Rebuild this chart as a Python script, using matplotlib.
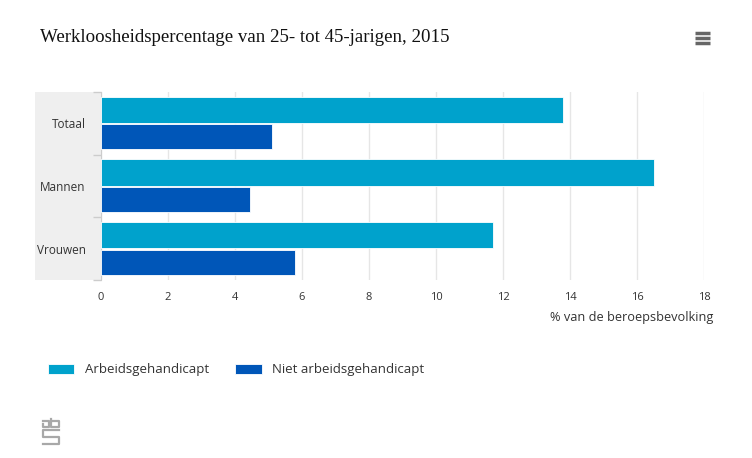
import numpy as np
import matplotlib.pyplot as plt
from matplotlib.patches import Rectangle
from matplotlib.lines import Line2D

# gegevens
categorieen = ['Totaal', 'Mannen', 'Vrouwen']
arbeidsgehandicapt = [13.8, 16.5, 11.7]
niet_gehandicapt = [5.1, 4.45, 5.8]
x_ticks = [0, 2, 4, 6, 8, 10, 12, 14, 16, 18]

licht = '#00a2cc'
donker = '#0056b8'

W, H = 752, 458
fig = plt.figure(figsize=(7.52, 4.58), dpi=100)

# grijze achtergrond achter de categorieen
fig.patches.append(Rectangle((35 / W, 1 - 280 / H), 66 / W, 188 / H,
                             transform=fig.transFigure, facecolor='#efefef',
                             edgecolor='none', zorder=0))

ax = fig.add_axes([101 / W, 1 - 280 / H, 603 / W, 188 / H])
ax.set_zorder(2)

y = np.arange(len(categorieen))
ax.barh(y - 0.215, arbeidsgehandicapt, height=0.42, color=licht,
        edgecolor='white', linewidth=0.6, label='Arbeidsgehandicapt', zorder=3)
ax.barh(y + 0.215, niet_gehandicapt, height=0.40, color=donker,
        edgecolor='white', linewidth=0.6, label='Niet arbeidsgehandicapt', zorder=3)

ax.set_xlim(0, 18)
ax.set_ylim(2.5, -0.5)
ax.set_xticks(x_ticks)
ax.set_xticklabels([str(t) for t in x_ticks], fontsize=8, color='#333333',
                   family='Open Sans')
ax.tick_params(axis='x', length=0, pad=9)
ax.grid(axis='x', color='#e6e6e6', linewidth=1, zorder=0)

# categorie labels
ax.set_yticks(y)
ax.set_yticklabels(categorieen, fontsize=8.5, color='#333333', family='Open Sans')
ax.tick_params(axis='y', which='major', length=0, pad=11)
ax.set_yticks([-0.5, 0.5, 1.5, 2.5], minor=True)
ax.tick_params(axis='y', which='minor', length=6, color='#cccccc', width=1)

for s in ['top', 'right', 'bottom']:
    ax.spines[s].set_visible(False)
ax.spines['left'].set_color('#cccccc')
ax.set_facecolor('none')

ax.set_xlabel('% van de beroepsbevolking', fontsize=9.2, color='#333333',
              family='Open Sans')
ax.xaxis.set_label_coords((713 - 101) / 603, -(318 - 280) / 188)
ax.xaxis.label.set_horizontalalignment('right')
ax.xaxis.label.set_verticalalignment('center')

fig.text(40 / W, 1 - 38 / H, 'Werkloosheidspercentage van 25- tot 45-jarigen, 2015',
         fontsize=13.6, family='Liberation Serif', color='#111111', va='center')

# menu icoon
for yy in [33, 38, 43]:
    fig.add_artist(Line2D([695 / W, 710 / W], [1 - yy / H, 1 - yy / H],
                          color='#666666', linewidth=2.5, solid_capstyle='butt'))

# legenda
leg = fig.legend(loc='center left', bbox_to_anchor=(36 / W, 1 - 370 / H),
                 ncol=2, frameon=False, handlelength=2.0,
                 handleheight=0.8, columnspacing=2.0, handletextpad=0.8,
                 prop={'family': 'Open Sans', 'size': 9.5})
for t in leg.get_texts():
    t.set_color('#333333')

# cbs logo (eenvoudig nagetekend)
grijs = '#a8a8a8'
logo = [
    [(43, 421), (49, 421), (49, 427), (43, 427), (43, 424)],
    [(51, 419), (51, 427), (59, 427), (59, 421), (53, 421)],
    [(59, 430), (43, 430), (43, 437), (59, 437), (59, 444), (43, 444)],
]
for pts in logo:
    xs = [p[0] / W for p in pts]
    ys = [1 - p[1] / H for p in pts]
    fig.add_artist(Line2D(xs, ys, color=grijs, linewidth=1.6))

fig.savefig('out.png', dpi=100)
